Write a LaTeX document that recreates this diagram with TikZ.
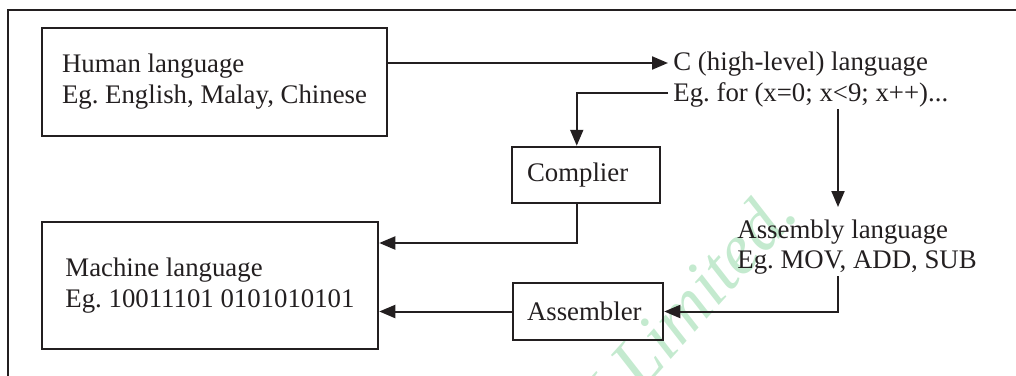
\documentclass[tikz,border=0pt]{standalone}
\usepackage{fontspec}
\setmainfont{Liberation Serif}
\usetikzlibrary{arrows.meta,calc}
\definecolor{ink}{HTML}{231F20}
\definecolor{wm}{HTML}{C4EACF}
\frenchspacing
\begin{document}
\begin{tikzpicture}[x=0.5pt,y=-0.5pt,
  box/.style={draw=ink,line width=1.25pt,inner sep=0pt,text=ink,align=left},
  bigbox/.style={box,font=\fontsize{13.4}{15.5}\selectfont},
  smallbox/.style={box,font=\fontsize{13.4}{15.5}\selectfont},
  lbl/.style={inner xsep=2.5pt,inner ysep=0pt,anchor=base west,text=ink,font=\fontsize{13.4}{15.5}\selectfont},
  conn/.style={draw=ink,line width=1pt},
  arr/.style={conn,-{Triangle[length=8pt,width=6.5pt]}}]
\useasboundingbox (0,0) rectangle (1016,375);
% watermark
\begin{scope}
\clip (0,0) rectangle (1016,375);
\node[text=wm, rotate=48, anchor=base west, inner sep=0pt, font=\fontsize{36}{36}\selectfont\itshape] (wmark) at (562,480) {CU Limited.};
\end{scope}
% frame
\draw[ink, line width=1.2pt] (8,380) -- (8,10) -- (1020,10);
% boxes
\node[bigbox, minimum width=172.5pt, minimum height=54pt] (human) at (214.5,82) {Human language\\Eg. English, Malay, Chinese};
\node[bigbox, minimum width=168pt, minimum height=63.5pt] (machine) at (210,285.5) {Machine language\\Eg. 10011101 0101010101};
\node[smallbox, inner xsep=7.5pt, text width=59pt, minimum height=28pt] (complier) at (586,175) {Complier};
\node[smallbox, inner xsep=7pt, text width=61pt, minimum height=28.5pt] (assembler) at (588,311.5) {Assembler};
% labels
\node[lbl] (c1) at (668,70) {C (high-level) language};
\node[lbl] (c2) at (668,101) {Eg. for (x=0; x<9; x++)...};
\node[lbl] (a1) at (732,238) {Assembly language};
\node[lbl] (a2) at (732,268) {Eg. MOV, ADD, SUB};
% connectors
\coordinate (cin) at ($(c1.base west)+(0,-7)$);
\coordinate (cout) at ($(c2.base west)+(0,-8)$);
\coordinate (yc) at (0,243);
\draw[arr] (human.east |- cin) -- (cin);
\draw[arr] (cout) -| ($(complier.north west)+(66,0)$);
\draw[arr] ($(c2.base west)+(170,8)$) -- ($(a1.base west)+(106,-31)$);
\draw[arr] ($(complier.south west)+(66,0)$) |- (machine.east |- yc);
\draw[arr] ($(a2.base west)+(106,8)$) |- (assembler.east);
\draw[arr] (assembler.west) -- (assembler.west -| machine.east);
\end{tikzpicture}
\end{document}
